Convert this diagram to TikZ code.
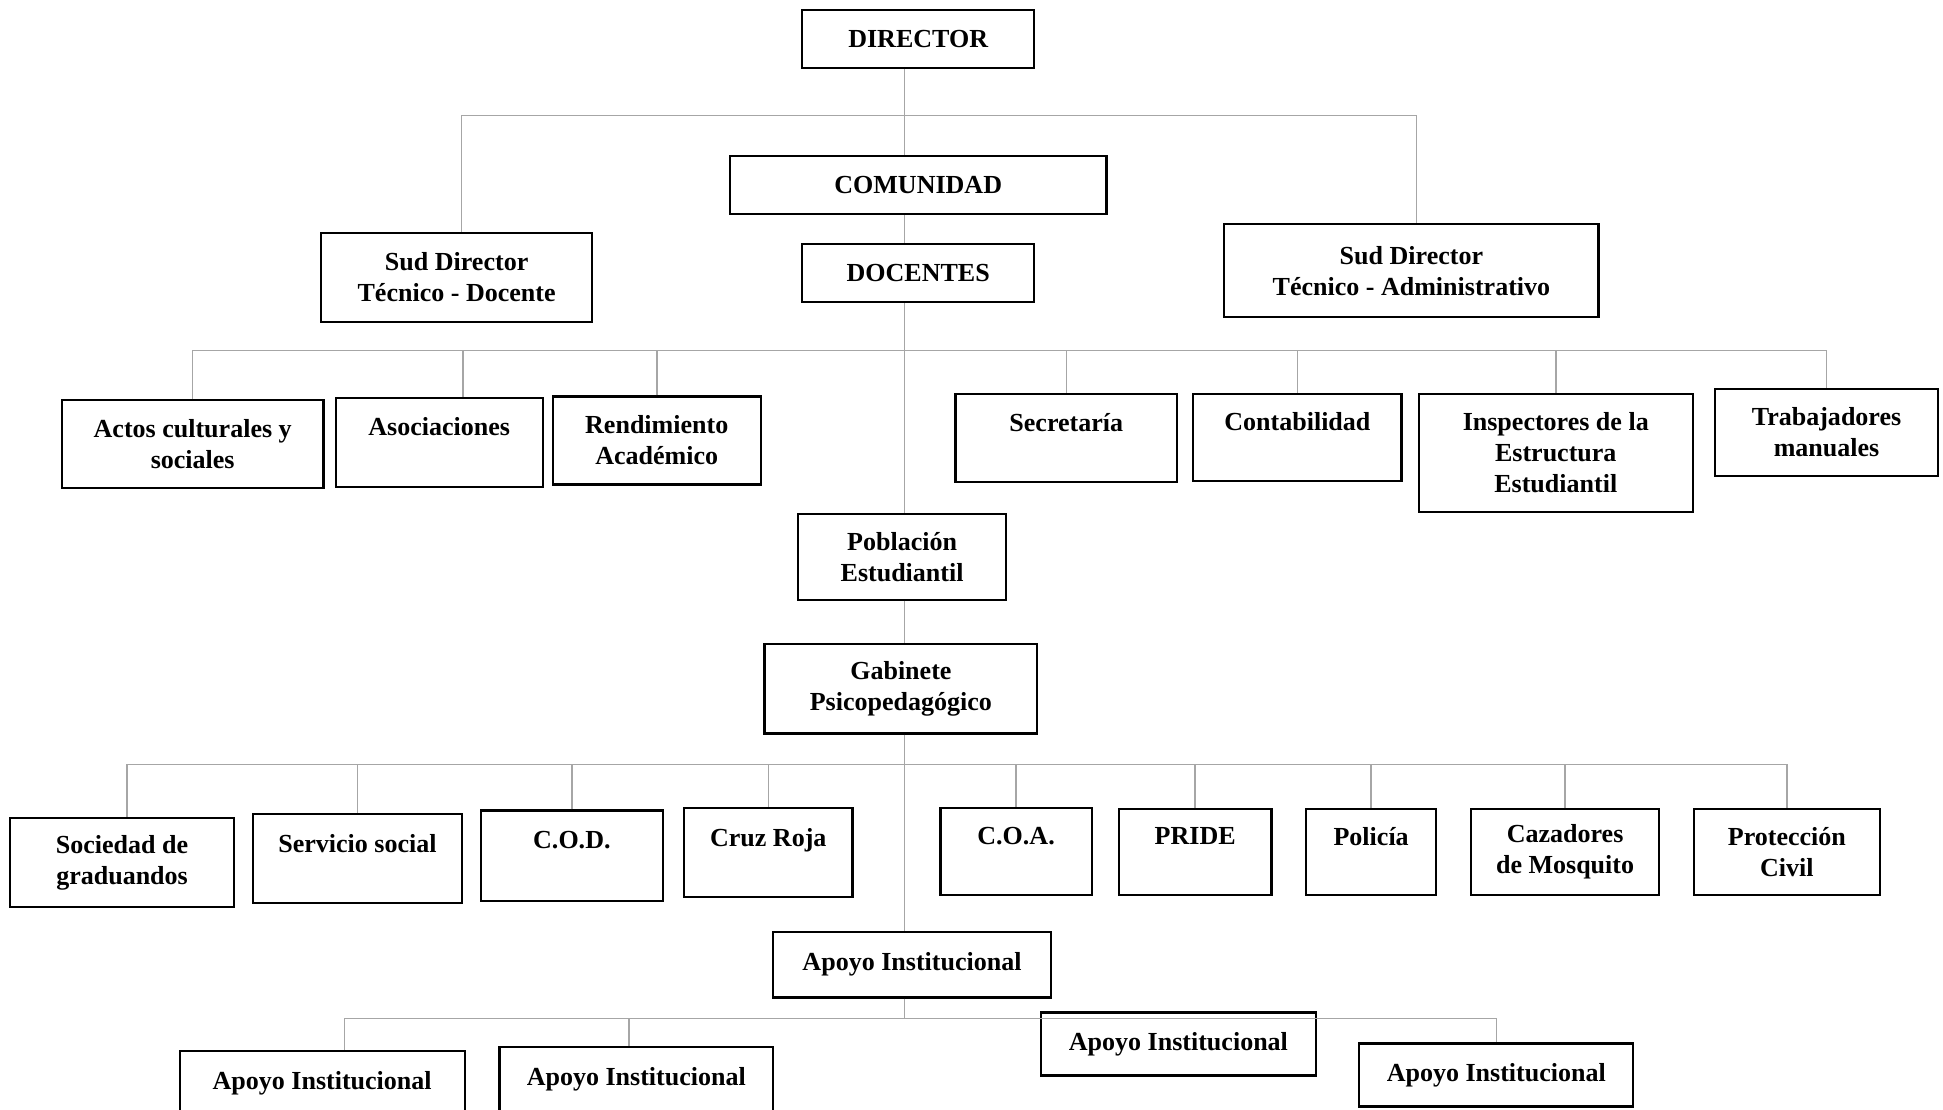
\documentclass[tikz,border=0pt]{standalone}
\usepackage{fontspec}
\setmainfont{Liberation Serif}
\usepackage{tikz}

\tikzset{
  box/.style={draw, line width=0.9pt, align=center, inner sep=1pt,
    font=\fontsize{10.5}{12.5}\selectfont\bfseries},
  sz/.style 2 args={minimum width=#1*0.5pt, minimum height=#2*0.5pt},
  conn/.style={draw=gray!70, line width=0.6pt}
}

\begin{document}
\begin{tikzpicture}[x=0.5pt,y=0.5pt,yscale=-1,xscale=1]
    %set diagram left start at 0, and has height of 895
    \clip (0,0) rectangle (1568,895);
    \fill[white] (0,0) rectangle (1568,895);

    % Text Node
    \node [box, sz={187}{47}] (director) at (741,31.5) {DIRECTOR};
    % Text Node
    \node [box, sz={304}{47}] (comunidad) at (741,149.5) {COMUNIDAD};
    % Text Node
    \node [box, sz={187}{47}] (docentes) at (741,220.5) {DOCENTES};
    % Text Node
    \node [box, sz={219}{72}] (sdtd) at (368.5,224) {Sud Director\\Técnico - Docente};
    % Text Node
    \node [box, sz={302}{75}] (sdta) at (1139,218.5) {Sud Director\\Técnico - Administrativo};

    % Text Node
    \node [box, sz={211}{71}] (actos) at (155.5,358.5) {Actos culturales y\\sociales};
    \node [box, sz={167}{72}] (asoc) at (354.5,357) {Asociaciones\\~};
    \node [box, sz={168}{71}] (rend) at (530,355.5) {Rendimiento\\Académico};
    \node [box, sz={179}{71}] (secr) at (860.5,353.5) {Secretaría\\~};
    \node [box, sz={168}{70}] (conta) at (1047,353) {Contabilidad\\~};
    \node [box, sz={221}{95}] (insp) at (1255.5,365.5) {Inspectores de la\\Estructura\\Estudiantil};
    \node [box, sz={180}{70}] (trab) at (1474,349) {Trabajadores\\manuales};

    % Text Node
    \node [box, sz={168}{69}] (poblacion) at (728,449.5) {Población\\Estudiantil};
    \node [box, sz={220}{72}] (gabinete) at (727,556) {Gabinete\\Psicopedagógico};

    % Text Node
    \node [box, sz={181}{72}] (socg) at (98.5,696) {Sociedad de\\graduandos};
    \node [box, sz={169}{72}] (servs) at (288.5,693) {Servicio social\\~};
    \node [box, sz={147}{73}] (cod) at (461.5,690.5) {C.O.D.\\~};
    \node [box, sz={136}{72}] (cruz) at (620,688) {Cruz Roja\\~};
    \node [box, sz={122}{70}] (coa) at (820,687) {C.O.A.\\~};
    \node [box, sz={123}{69}] (pride) at (964.5,687.5) {PRIDE\\~};
    \node [box, sz={105}{69}] (policia) at (1106.5,687.5) {Policía\\~};
    \node [box, sz={152}{69}] (cazad) at (1263,687.5) {Cazadores\\de Mosquito};
    \node [box, sz={150}{69}] (pcivil) at (1442,687.5) {Protección\\Civil};

    % Text Node
    \node [box, sz={224}{53}] (apoyo) at (736,778.5) {Apoyo Institucional};
    \node [box, sz={230}{52}] (apA) at (260,874) {Apoyo Institucional};
    \node [box, sz={221}{52}] (apB) at (513.5,871) {Apoyo Institucional};
    \node [box, sz={222}{51}] (apC) at (951,842.5) {Apoyo Institucional};
    \node [box, sz={221}{51}] (apD) at (1207.5,867.5) {Apoyo Institucional};

    %Straight Lines
    \coordinate (spine) at (730,0);
    \coordinate (b1) at (730,93);
    \coordinate (b2) at (730,283);
    \coordinate (b3) at (730,617);
    \coordinate (b4) at (730,822);

    \draw [conn] (director.south -| spine) -- (comunidad.north -| spine);
    \draw [conn] (comunidad.south -| spine) -- (docentes.north -| spine);
    \draw [conn] (docentes.south -| spine) -- (poblacion.north -| spine);
    \draw [conn] (poblacion.south -| spine) -- (gabinete.north -| spine);
    \draw [conn] (gabinete.south -| spine) -- (apoyo.north -| spine);
    \draw [conn] (apoyo.south -| spine) -- (b4);

    %Straight Lines
    \draw [conn] ([xshift=2pt]sdtd.north) |- (b1) -| ([xshift=2pt]sdta.north);
    \draw [conn] (actos.north) |- (b2) -| (trab.north);
    \draw [conn] ([xshift=9.5pt]asoc.north) -- ([xshift=9.5pt]asoc.north |- b2);
    \foreach \n in {rend,secr,conta,insp}
      \draw [conn] (\n.north) -- (\n.north |- b2);

    %Straight Lines
    \draw [conn] ([xshift=2pt]socg.north) |- (b3) -| (pcivil.north);
    \foreach \n in {servs,cod,cruz,coa,pride,policia,cazad}
      \draw [conn] (\n.north) -- (\n.north |- b3);

    %Straight Lines
    \draw [conn] ([xshift=9pt]apA.north) |- (b4) -| (apD.north);
    \draw [conn] ([xshift=-3pt]apB.north) -- ([xshift=-3pt]apB.north |- b4);

\end{tikzpicture}
\end{document}
